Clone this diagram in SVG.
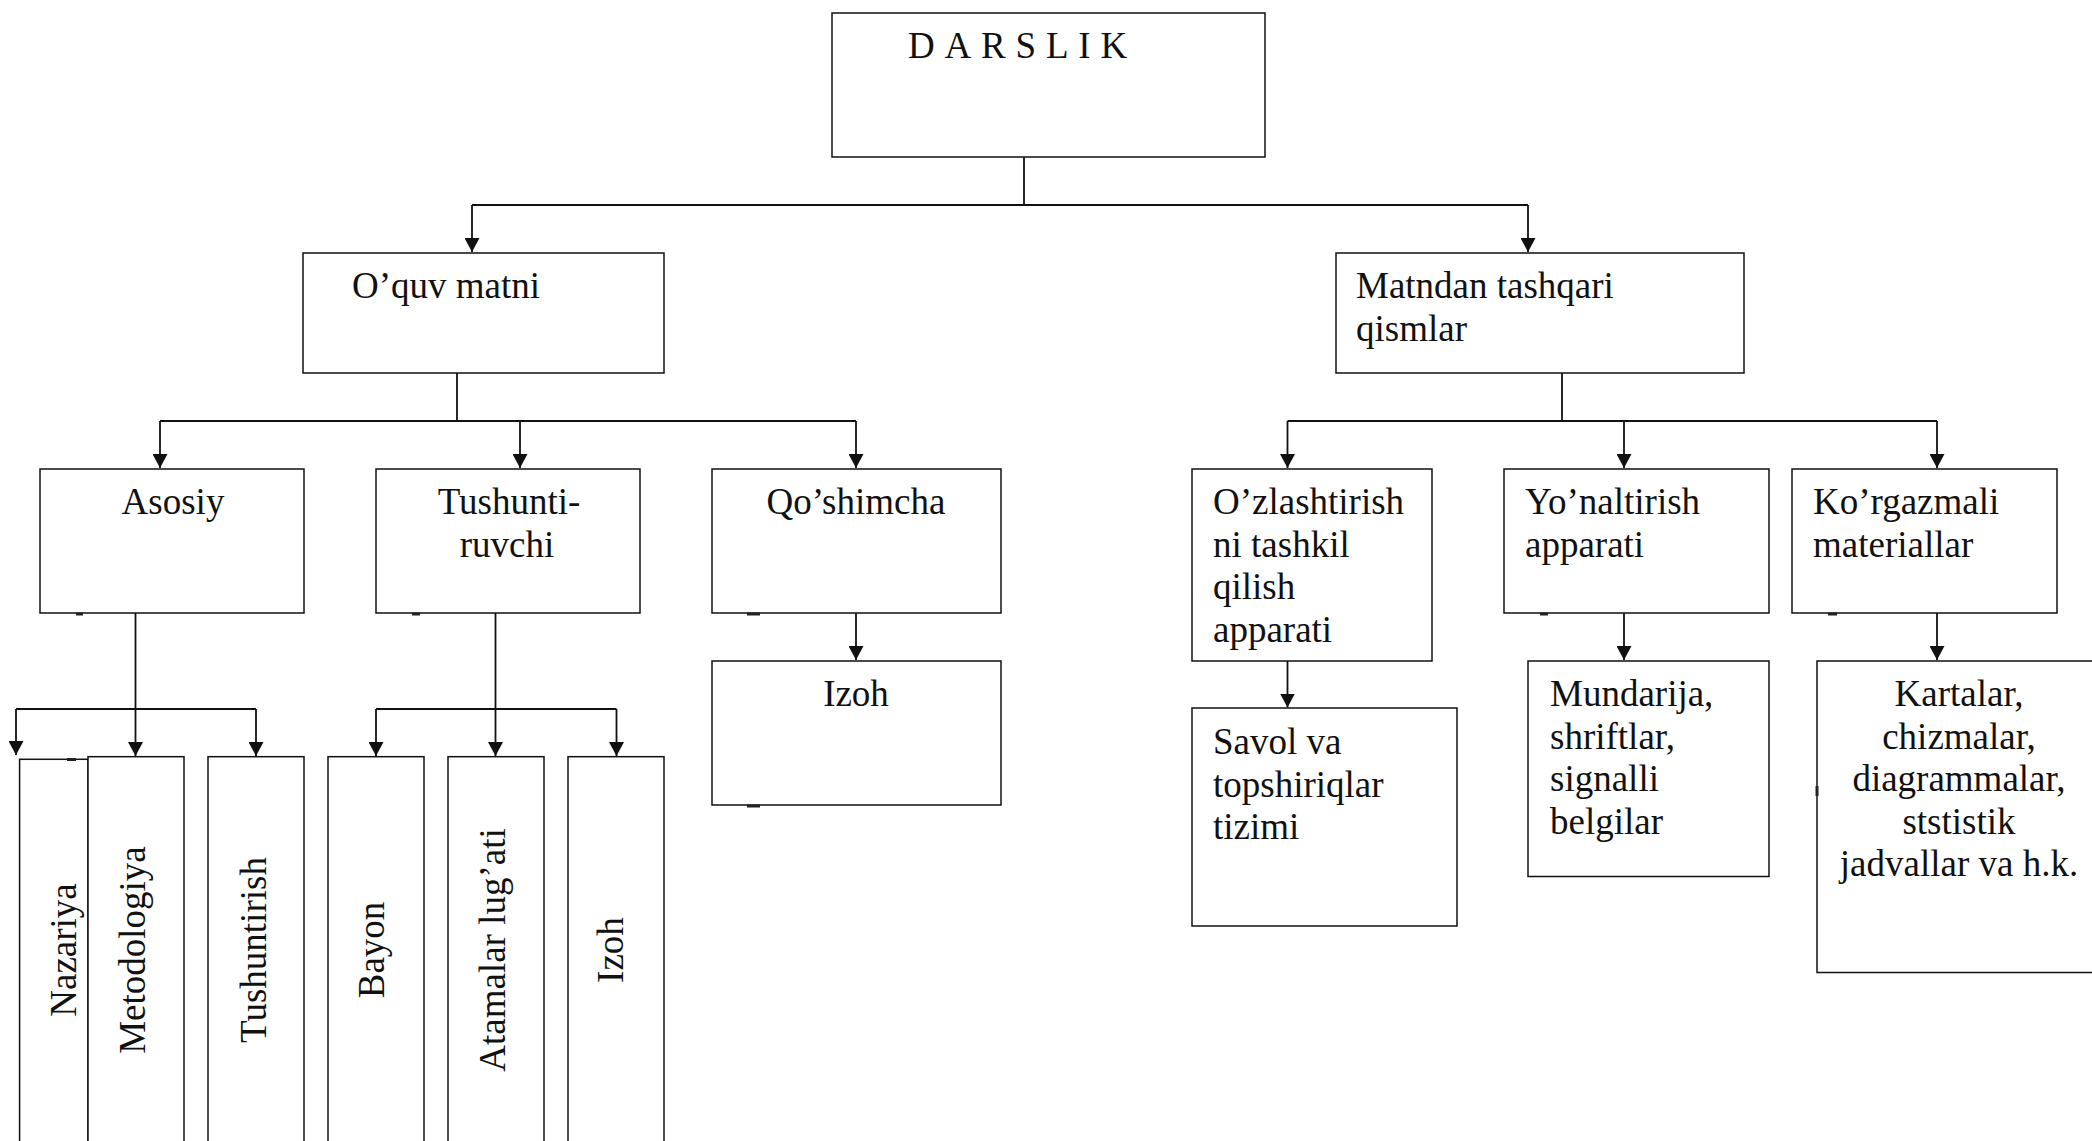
<svg xmlns="http://www.w3.org/2000/svg" width="2092" height="1141" viewBox="0 0 2092 1141">
<style>
.box{fill:#fff;stroke:#111;stroke-width:1.5}
.ln{fill:none;stroke:#111;stroke-width:1.8}
.ar{fill:none;stroke:#111;stroke-width:1.8;marker-end:url(#ah)}
.t{font-family:"Liberation Serif","Times New Roman",serif;font-size:37px;fill:#111}
.c{text-anchor:middle}
.tick{stroke:#222;stroke-width:3}
</style>
<defs>
<marker id="ah" markerUnits="userSpaceOnUse" markerWidth="15" markerHeight="15" refX="14" refY="7.5" orient="auto">
<path d="M0,0 L14,7.5 L0,15 Z" fill="#111"/>
</marker>
</defs>
<rect width="2092" height="1141" fill="#fff"/>
<g id="connectors">
<path class="ln" d="M1024,157 V205 M472,205 H1528"/>
<path class="ar" d="M472,205 V252"/>
<path class="ar" d="M1528,205 V252"/>
<path class="ln" d="M457,373 V421 M160,421 H856"/>
<path class="ar" d="M160,421 V468"/>
<path class="ar" d="M520,421 V468"/>
<path class="ar" d="M856,421 V468"/>
<path class="ln" d="M1562,373 V421 M1287.5,421 H1937"/>
<path class="ar" d="M1287.5,421 V468"/>
<path class="ar" d="M1624,421 V468"/>
<path class="ar" d="M1937,421 V468"/>
<path class="ln" d="M135.5,613 V709 M16,709 H256"/>
<path class="ar" d="M16,709 V755"/>
<path class="ar" d="M135.5,709 V756"/>
<path class="ar" d="M256,709 V756"/>
<path class="ln" d="M495.5,613 V709 M376,709 H616.5"/>
<path class="ar" d="M376,709 V756"/>
<path class="ar" d="M495.5,709 V756"/>
<path class="ar" d="M616.5,709 V756"/>
<path class="ar" d="M856,613 V660"/>
<path class="ar" d="M1287.5,661 V707.5"/>
<path class="ar" d="M1624,613 V660"/>
<path class="ar" d="M1937,613 V660"/>
</g>
<g id="darslik"><rect class="box" x="832" y="13" width="433" height="144"/><text class="t" x="908" y="58" letter-spacing="9.8">DARSLIK</text></g>
<g id="oquv-matni"><rect class="box" x="303" y="253" width="361" height="120"/><text class="t" x="352" y="298">O’quv matni</text></g>
<g id="matndan-tashqari"><rect class="box" x="1336" y="253" width="408" height="120"/><text class="t" x="1356" y="298">Matndan tashqari</text><text class="t" x="1356" y="340.5">qismlar</text></g>
<g id="asosiy"><rect class="box" x="40" y="469" width="264" height="144"/><text class="t c" x="173" y="514">Asosiy</text></g>
<g id="tushuntiruvchi"><rect class="box" x="376" y="469" width="264" height="144"/><text class="t c" x="509" y="514">Tushunti-</text><text class="t c" x="507" y="556.5">ruvchi</text></g>
<g id="qoshimcha"><rect class="box" x="712" y="469" width="289" height="144"/><text class="t c" x="856" y="514">Qo’shimcha</text></g>
<g id="izoh-1"><rect class="box" x="712" y="661" width="289" height="144"/><text class="t c" x="856" y="706">Izoh</text></g>
<g id="ozlashtirish"><rect class="box" x="1192" y="469" width="240" height="192"/><text class="t" x="1213" y="514">O’zlashtirish</text><text class="t" x="1213" y="556.5">ni tashkil</text><text class="t" x="1213" y="599">qilish</text><text class="t" x="1213" y="641.5">apparati</text></g>
<g id="savol"><rect class="box" x="1192" y="708" width="265" height="218"/><text class="t" x="1213" y="754">Savol va</text><text class="t" x="1213" y="796.5">topshiriqlar</text><text class="t" x="1213" y="839">tizimi</text></g>
<g id="yonaltirish"><rect class="box" x="1504" y="469" width="265" height="144"/><text class="t" x="1525" y="514">Yo’naltirish</text><text class="t" x="1525" y="556.5">apparati</text></g>
<g id="mundarija"><rect class="box" x="1528" y="661" width="241" height="215.5"/><text class="t" x="1550" y="706">Mundarija,</text><text class="t" x="1550" y="748.5">shriftlar,</text><text class="t" x="1550" y="791">signalli</text><text class="t" x="1550" y="833.5">belgilar</text></g>
<g id="korgazmali"><rect class="box" x="1792" y="469" width="265" height="144"/><text class="t" x="1813" y="514">Ko’rgazmali</text><text class="t" x="1813" y="556.5">materiallar</text></g>
<g id="kartalar"><rect class="box" x="1817" y="661" width="300" height="311.5"/><text class="t c" x="1959" y="706">Kartalar,</text><text class="t c" x="1959" y="748.5">chizmalar,</text><text class="t c" x="1959" y="791">diagrammalar,</text><text class="t c" x="1959" y="833.5">ststistik</text><text class="t c" x="1959" y="876">jadvallar va h.k.</text></g>
<g id="nazariya"><rect class="box" x="19.6" y="759.3" width="68.4" height="420"/><text class="t c" transform="translate(76,950) rotate(-90)">Nazariya</text></g>
<g id="metodologiya"><rect class="box" x="88" y="756.7" width="96" height="420"/><text class="t c" transform="translate(145,950) rotate(-90)">Metodologiya</text></g>
<g id="tushuntirish"><rect class="box" x="208" y="756.7" width="96" height="420"/><text class="t c" transform="translate(265.5,950) rotate(-90)">Tushuntirish</text></g>
<g id="bayon"><rect class="box" x="328" y="756.7" width="96" height="420"/><text class="t c" transform="translate(384,950) rotate(-90)">Bayon</text></g>
<g id="atamalar"><rect class="box" x="448" y="756.7" width="96" height="420"/><text class="t c" transform="translate(504.5,950) rotate(-90)">Atamalar lug’ati</text></g>
<g id="izoh-2"><rect class="box" x="568" y="756.7" width="96" height="420"/><text class="t c" transform="translate(623,950) rotate(-90)">Izoh</text></g>
<g id="marks">
<path class="tick" d="M76,614 H83 M412,614 H420 M747,614 H760 M747,806 H760 M1540,614 H1548 M1828,614 H1837 M67,759.5 H76 M1817,786 V796"/>
</g>
</svg>
